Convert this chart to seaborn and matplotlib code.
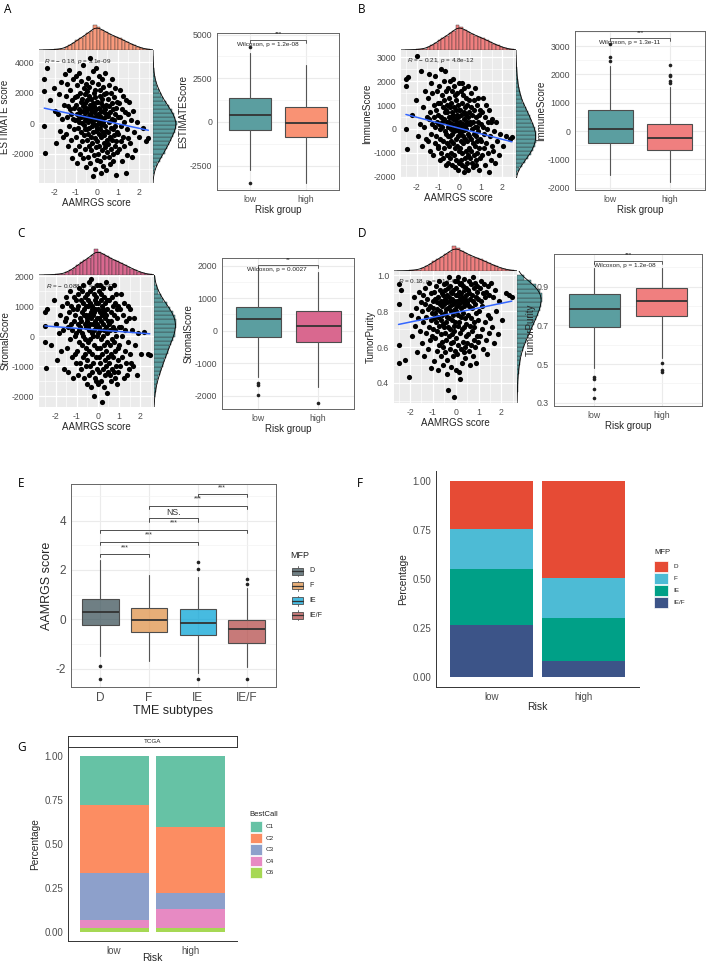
import numpy as np
import pandas as pd
import matplotlib
matplotlib.use("Agg")
import matplotlib.pyplot as plt
from matplotlib.patches import Rectangle
from matplotlib.lines import Line2D
from matplotlib.colors import to_rgba
import seaborn as sns

# ---------------- data ----------------
# AAMRGS score of each sample (x of all four scatter panels)
aamrgs = [
    -2.50, -2.50, -2.49, -2.47, -2.38, -2.21, -2.05, -1.97, -1.92, -1.84, -1.79, -1.73, -1.69, -1.64, -1.60, -1.56, -1.52,
    -1.49, -1.47, -1.44, -1.41, -1.39, -1.36, -1.33, -1.31, -1.28, -1.26, -1.23, -1.21, -1.18, -1.16, -1.14, -1.12,
    -1.10, -1.08, -1.06, -1.04, -1.02, -1.01,
    -0.99, -0.98, -0.96, -0.95, -0.93, -0.92, -0.90, -0.89, -0.87, -0.86, -0.84, -0.83, -0.81, -0.80, -0.78, -0.77,
    -0.76, -0.74, -0.73, -0.72, -0.70, -0.69, -0.68, -0.66, -0.65, -0.64, -0.63, -0.61, -0.60, -0.59, -0.58, -0.57,
    -0.56, -0.55, -0.54, -0.53, -0.52, -0.51,
    -0.50, -0.49, -0.48, -0.47, -0.46, -0.45, -0.44, -0.43, -0.42, -0.41, -0.40, -0.39, -0.38, -0.37, -0.36, -0.35,
    -0.34, -0.33, -0.32, -0.31, -0.30, -0.29, -0.28, -0.27, -0.26, -0.25, -0.24, -0.23, -0.22, -0.21, -0.20, -0.19,
    -0.18, -0.17, -0.16, -0.15, -0.14, -0.13, -0.12, -0.11, -0.10, -0.09, -0.08, -0.07, -0.06, -0.05, -0.04, -0.03,
    -0.03, -0.02, -0.01, 0.00,
    0.01, 0.02, 0.03, 0.04, 0.05, 0.06, 0.07, 0.08, 0.09, 0.10, 0.11, 0.12, 0.13, 0.14, 0.15, 0.16, 0.17, 0.18, 0.19,
    0.20, 0.21, 0.22, 0.23, 0.24, 0.25, 0.26, 0.27, 0.28, 0.29, 0.30, 0.31, 0.32, 0.33, 0.34, 0.35, 0.36, 0.37, 0.38,
    0.39, 0.40, 0.41, 0.42, 0.43, 0.44, 0.45, 0.46, 0.48, 0.49,
    0.51, 0.52, 0.54, 0.55, 0.56, 0.58, 0.59, 0.60, 0.62, 0.63, 0.64, 0.66, 0.67, 0.68, 0.70, 0.71, 0.72, 0.74, 0.75,
    0.76, 0.78, 0.79, 0.80, 0.82, 0.83, 0.84, 0.86, 0.87, 0.88, 0.90, 0.91, 0.93, 0.94, 0.96, 0.97, 0.99,
    1.01, 1.04, 1.06, 1.09, 1.11, 1.14, 1.16, 1.19, 1.21, 1.24, 1.26, 1.29, 1.31, 1.34, 1.37, 1.40, 1.42, 1.45, 1.47, 1.50,
    1.54, 1.58, 1.63, 1.67, 1.72, 1.76, 1.83, 1.91, 2.02, 2.18, 2.35, 2.45,
]

estimate = [
    2900, 2100, -200, -1950, 3600, 1500, 2300, 800, -1300, 600, 1900, -500, 2700, 300, -900, 1200, 3200,
    1800, -700, 2600, 400, -1500, 1100, 3500, -200, 900, 2200, -1100, 600, 1500, -2300, 300, 2900, 1000, -400, 1700,
    200, -1800, 3100,
    1200, -900, 2500, 600, -2600, 1800, 300, -300, 3300, 900, -1500, 100, 2000, 700, -2000, 1400, -600, 2800, 400,
    -1200, 1600, 0, 3800, 800, -2300, 1100, -100, 2300, 500, -800, 1900, -1700, 1300, 200, -400, 2600, -2900, 1000,
    700, -1100, 2100, 300, -400, 1500, -2200, 900, 3000, -700, 100, 1800, -1500, 500, 2400, -300, 1200, -2600, 600,
    4300, -900, 1000, 200, -1800, 1600, 2700, -200, 800, -1300, 400, 3400, -3500, 1300, 0, -600, 2000, -2100, 700,
    1100, -1000, 2200, 300, -3000, 1700, -500, 900, 3600, -1600, 500, -100, 1400, -2400,
    -300, 1400, -1200, 600, 2600, -2000, 200, 1000, -700, 3100, -1500, 0, 1800, -2500, 500, -400, 2200, -900, 800,
    -3300, 1300, -100, 2900, -1800, 300, 1600, -600, -2800, 1100, 100, 2400, -1300, 700, -2200, 1900, -800, 400, 3300,
    -1600, 900, -200, -3100, 1200, -500, 2000, -1100, 600, -1900,
    500, -1400, 1600, -600, 2500, -2200, 100, 1100, -900, -2700, 700, 2000, -300, -1700, 1300, -1100, 300, 2900,
    -2000, 900, -400, -2500, 1700, -800, 200, -1500, 2300, -200, 600, -3400, 1000, -1200, 1400, -600, -1900, 400,
    -700, 1300, -1700, 400, 2200, -1200, -200, 900, -2500, 1800, -900, 100, -1500, 700, -3300, 1500, -400, -2100, 600, -1000,
    1400, -1300, 200, -2200, 800, -600, -1800, 100, -900, -300, -1200, -1000,
]

immune = [
    2100, 1800, 0, -850, 2150, 600, 1200, 3050, -300, 200, 2400, -700, 900, 100, 1600, -400, 500,
    1300, -500, 2300, 400, -900, 700, 1900, -200, 200, 1500, -1100, 500, 1000, -600, 2200, 100, 800, -300, 1600, 300,
    -800, 1100,
    600, -700, 1800, 200, -1300, 1100, 0, -400, 2500, 500, -1000, 100, 1400, 300, -1200, 900, -500, 2000, 400, -800,
    1200, -100, 2400, 700, -1500, 800, -200, 1600, 300, -600, 1000, -1100, 700, 100, -300, 1700, -1400, 500,
    300, -700, 1300, 100, -300, 900, -1200, 500, 2000, -500, 0, 1100, -1000, 200, 1600, -200, 700, -1500, 400, 2100,
    -600, 600, 0, -1100, 900, 1800, -100, 400, -800, 200, 1400, -1600, 800, -50, -400, 1200, -1300, 300, 600, -700,
    1500, 100, -1700, 1000, -300, 500, 1900, -900, 200, -100, 800, -1400,
    -200, 800, -800, 300, 1600, -1300, 100, 600, -500, 1900, -1000, -100, 1100, -1500, 200, -300, 1400, -600, 400,
    -1800, 700, -50, 1700, -1200, 100, 900, -400, -1600, 600, 0, 1300, -900, 300, -1400, 1000, -500, 200, 1800, -1100,
    500, -200, -1700, 700, -300, 1200, -800, 300, -1200,
    200, -900, 900, -400, 1500, -1400, 0, 600, -600, -1600, 300, 1200, -200, -1100, 800, -700, 100, 1700, -1300, 500,
    -300, -1500, 1000, -500, 100, -1000, 1300, -100, 300, -1700, 600, -800, 800, -400, -1200, 200,
    -500, 700, -1100, 100, 1300, -800, -200, 500, -1500, 1000, -600, 0, -1000, 300, -1800, 800, -300, -1300, 300, -700,
    400, -900, -100, -1400, 300, -500, -1100, -200, -700, -300, -400, -350,
]

stromal = [
    800, 350, -200, -1050, 900, -300, 1200, 400, -800, 100, 700, -500, 1000, 200, -1100, 500, 1300,
    600, -400, 1100, 300, -1200, 800, 1500, -100, 400, 1000, -700, 200, 900, -1400, 500, 1300, 0, -600, 700, 100,
    -900, 1200,
    900, -500, 1400, 400, -1300, 1000, 200, -200, 1600, 600, -900, 300, 1200, 500, -1100, 800, -300, 1500, 100, -700,
    1100, 0, 1700, 700, -1400, 900, -100, 1300, 400, -600, 1000, -1000, 700, 300, -400, 1400, -1600, 600,
    500, -800, 1200, 300, -200, 1000, -1300, 700, 1800, -500, 200, 1100, -1000, 400, 1500, -100, 800, -1700, 600, 1900,
    -600, 900, 100, -1200, 1000, 1600, 0, 700, -900, 400, 1400, -2000, 800, 200, -300, 1200, -1400, 500, 900, -700,
    1300, 300, -1500, 1100, -400, 600, 1700, -1100, 400, 0, 900, -1600,
    100, 1100, -700, 600, 1500, -1200, 300, 800, -400, 1700, -900, 200, 1200, -1500, 500, -100, 1400, -600, 700,
    -2200, 1000, 0, 1600, -1100, 400, 900, -300, -1700, 800, 200, 1300, -800, 600, -1300, 1100, -500, 300, 1800,
    -1000, 700, 100, -1900, 900, -200, 1200, -700, 500, -1200,
    400, -900, 1200, -300, 1600, -1300, 200, 800, -600, -1500, 500, 1300, -100, -1100, 1000, -700, 300, 1700, -1200,
    700, -200, -1400, 1100, -500, 200, -1000, 1400, 0, 600, -1600, 900, -800, 1000, -400, -1200, 300,
    -300, 900, -1000, 300, 1400, -700, 0, 700, -1400, 1100, -500, 200, -900, 500, -1300, 1000, -200, -1100, 600, -600,
    900, -900, 200, -1000, 600, -300, -1300, 100, -600, 150, -600, -620,
]

purity = [
    0.95, 0.84, 0.61, 0.51, 0.92, 0.53, 0.43, 0.78, 0.66, 0.88, 0.72, 0.82, 0.57, 0.76, 0.91, 0.69, 0.85,
    0.80, 0.62, 0.89, 0.74, 0.55, 0.84, 0.93, 0.68, 0.77, 0.87, 0.59, 0.81, 0.71, 0.96, 0.64, 0.83, 0.75, 0.48, 0.90,
    0.79, 0.66, 0.86,
    0.82, 0.70, 0.91, 0.76, 0.52, 0.87, 0.79, 0.65, 0.94, 0.74, 0.58, 0.85, 0.81, 0.69, 0.47, 0.88, 0.77, 0.97, 0.72,
    0.61, 0.84, 0.80, 0.92, 0.75, 0.55, 0.86, 0.67, 0.90, 0.78, 0.63, 0.83, 0.50, 0.89, 0.73, 0.60, 0.95, 0.71, 0.85,
    0.84, 0.68, 0.92, 0.79, 0.57, 0.87, 0.74, 0.64, 0.96, 0.81, 0.53, 0.89, 0.77, 0.45, 0.85, 0.71, 0.93, 0.36, 0.82,
    0.99, 0.66, 0.88, 0.76, 0.59, 0.86, 0.94, 0.70, 0.83, 0.62, 0.80, 0.91, 0.49, 0.87, 0.75, 0.67, 0.90, 0.55, 0.84,
    0.78, 0.63, 0.92, 0.72, 0.32, 0.86, 0.69, 0.81, 0.97, 0.58, 0.85, 0.74, 0.89, 0.47,
    0.80, 0.93, 0.65, 0.86, 0.97, 0.56, 0.83, 0.89, 0.72, 0.99, 0.61, 0.78, 0.91, 0.46, 0.84, 0.74, 0.95, 0.68, 0.87,
    0.42, 0.90, 0.77, 0.96, 0.59, 0.82, 0.88, 0.70, 0.51, 0.86, 0.79, 0.94, 0.63, 0.85, 0.57, 0.92, 0.71, 0.83, 0.98,
    0.60, 0.87, 0.76, 0.54, 0.89, 0.73, 0.93, 0.66, 0.84, 0.62,
    0.85, 0.67, 0.92, 0.78, 0.97, 0.58, 0.83, 0.90, 0.72, 0.50, 0.87, 0.95, 0.76, 0.61, 0.89, 0.69, 0.82, 0.99, 0.55,
    0.86, 0.74, 0.64, 0.93, 0.71, 0.84, 0.60, 0.96, 0.79, 0.88, 0.51, 0.91, 0.66, 0.94, 0.75, 0.63, 0.87,
    0.80, 0.93, 0.66, 0.86, 0.97, 0.70, 0.83, 0.90, 0.59, 0.95, 0.74, 0.88, 0.64, 0.91, 0.56, 0.94, 0.78, 0.68, 0.89, 0.76,
    0.96, 0.71, 0.88, 0.62, 0.92, 0.80, 0.67, 0.86, 0.75, 0.90, 0.89, 0.88,
]

# marginal histograms: bin range and counts per bin
aamrgs_bins = (-2.55, 2.55)
aamrgs_counts = [1, 1, 1, 2, 3, 5, 10, 18, 27, 37, 46, 54, 63, 74, 96, 86, 77, 68, 61, 55, 50, 44, 37, 30, 23, 18,
                 12, 7, 4, 2]
estimate_bins = (-3600, 4400)
estimate_counts = [2, 5, 10, 18, 28, 38, 48, 58, 66, 74, 82, 90, 96, 100, 92, 86, 78, 65, 52, 42, 34, 26, 18, 12, 8,
                   5, 3, 2, 1, 1]
immune_bins = (-1900, 3100)
immune_counts = [6, 15, 28, 45, 60, 74, 84, 92, 97, 100, 98, 92, 84, 76, 68, 58, 48, 38, 30, 24, 18, 14, 10, 8, 6, 4,
                 3, 2, 1, 1]
stromal_bins = (-2300, 2000)
stromal_counts = [1, 2, 4, 7, 10, 15, 20, 27, 33, 40, 47, 54, 61, 68, 76, 84, 92, 96, 100, 98, 92, 84, 72, 56, 42, 30,
                  20, 12, 6, 3]
purity_bins = (0.30, 1.00)
purity_counts = [1, 1, 2, 2, 3, 4, 6, 8, 10, 13, 17, 22, 28, 36, 44, 52, 60, 68, 76, 84, 90, 95, 100, 98, 90, 76, 55, 28]

# linear fits (intercept, slope) and correlation labels
fit_estimate = (249, -294)
fit_immune = (30, -230)
fit_stromal = (216, -53)
fit_purity = (0.792, 0.0263)
cor_estimate = r"$R$ = − 0.18, $p$ = 3.1e-09"
cor_immune = r"$R$ = − 0.21, $p$ = 4.8e-12"
cor_stromal = r"$R$ = − 0.088, $p$ = 0.0043"
cor_purity = r"$R$ = 0.18, $p$ = 3.1e-09"

# box statistics: whisker low, q1, median, q3, whisker high
risk_groups = ["low", "high"]
estimate_low = [-2746, -458, 400, 1356, 3930]
estimate_low_out = [4300, -3506]
estimate_high = [-3472, -875, -74, 841, 3260]
estimate_high_out = []
immune_low = [-1549, -433, 60, 739, 2300]
immune_low_out = [2460, 2615, 3087]
immune_high = [-1800, -669, -257, 236, 1538]
immune_high_out = [1700, 1770, 1950, 1990, 2323]
stromal_low = [-1417, -185, 351, 739, 1960]
stromal_low_out = [-1620, -1660, -1980]
stromal_high = [-1725, -339, 154, 616, 1817]
stromal_high_out = [-2236]
purity_low = [0.478, 0.690, 0.785, 0.861, 0.995]
purity_low_out = [0.432, 0.421, 0.369, 0.323]
purity_high = [0.530, 0.748, 0.828, 0.892, 0.995]
purity_high_out = [0.507, 0.469, 0.457]

# TME subtypes (panel E)
mfp_levels = ["D", "F", "IE", "IE/F"]
tme_stats = [[-1.51, -0.23, 0.31, 0.82, 2.40],
             [-1.69, -0.54, -0.03, 0.47, 1.79],
             [-2.20, -0.65, -0.14, 0.42, 1.72],
             [-1.92, -0.95, -0.39, -0.03, 1.25]]
tme_out = [[-1.89, -2.42], [], [2.02, 2.33, -2.42], [1.43, 1.62, -2.43]]
tme_pairs = [(1, 2, 2.64, "***"), (1, 3, 3.14, "***"), (1, 4, 3.62, "***"),
             (2, 3, 4.09, "NS."), (2, 4, 4.59, "***"), (3, 4, 5.07, "***")]

# proportions (panel F: MFP, panel G: BestCall)
mfp_low = [0.246, 0.203, 0.287, 0.264]
mfp_high = [0.495, 0.204, 0.220, 0.081]
bestcall_levels = ["C1", "C2", "C3", "C4", "C6"]
bestcall_low = [0.280, 0.383, 0.269, 0.044, 0.024]
bestcall_high = [0.405, 0.375, 0.091, 0.105, 0.024]

# ---------------- style ----------------
sns.set_style("white")
plt.rcParams.update({
    "axes.unicode_minus": False,
    "mathtext.fontset": "custom",
    "mathtext.rm": "Liberation Sans",
    "mathtext.it": "Liberation Sans:italic",
})
plt.rcParams["font.family"] = ["Liberation Sans", "DejaVu Sans"]

teal = "#5B9EA0"
tick_grey = "#4D4D4D"

W, H = 709, 964
fig = plt.figure(figsize=(W / 100, H / 100), dpi=100)


def add_px(x0, y0, x1, y1):
    return fig.add_axes([x0 / W, 1 - y1 / H, (x1 - x0) / W, (y1 - y0) / H])


def style_ticks(ax, size, length=2, pad=1.5):
    ax.tick_params(which="major", length=length, width=0.5, color="#333333",
                   labelsize=size, labelcolor=tick_grey, pad=pad)
    ax.tick_params(which="minor", length=0)


def midpoints(ticks):
    step = ticks[1] - ticks[0]
    return [ticks[0] - step / 2] + [t + step / 2 for t in ticks]


n = min(len(aamrgs), len(estimate), len(immune), len(stromal), len(purity))


def marginal(ax, counts, brange, col, orient, lim):
    edges = np.linspace(brange[0], brange[1], len(counts) + 1)
    width = edges[1] - edges[0]
    df = pd.DataFrame({"v": (edges[:-1] + edges[1:]) / 2, "w": counts})
    dens = np.asarray(counts, float) / (sum(counts) * width)
    if orient == "x":
        ax.bar(df["v"], dens, width=width, color=col, edgecolor="#333333", linewidth=0.3)
        sns.kdeplot(data=df, x="v", weights="w", bw_adjust=0.45, cut=1, color="black", linewidth=0.6, ax=ax)
        ax.set_xlim(lim)
        ax.set_ylim(0, dens.max() * 1.03)
    else:
        ax.barh(df["v"], dens, height=width, color=col, edgecolor="#333333", linewidth=0.3)
        sns.kdeplot(data=df, y="v", weights="w", bw_adjust=0.45, cut=1, color="black", linewidth=0.6, ax=ax)
        ax.set_ylim(lim)
        ax.set_xlim(0, dens.max() * 1.03)
    ax.axis("off")


def scatter_panel(rect, top_h, right_w, y, fit, cor, cor_pos, xlim, ylim, yticks, ylabels, ylabel,
                  top_col, ycounts, ybins):
    x0, y0, x1, y1 = rect
    ax = add_px(*rect)
    ax.set_facecolor("#EBEBEB")
    for s in ax.spines.values():
        s.set_visible(False)
    ax.set_xticks([-2, -1, 0, 1, 2])
    ax.set_xticklabels(["-2", "-1", "0", "1", "2"])
    ax.set_xticks([-2.5, -1.5, -0.5, 0.5, 1.5, 2.5], minor=True)
    ax.set_yticks(yticks)
    ax.set_yticklabels(ylabels)
    ax.set_yticks(midpoints(yticks), minor=True)
    ax.grid(which="major", color="white", lw=0.9)
    ax.grid(which="minor", color="white", lw=0.45)
    ax.set_axisbelow(True)
    ax.text(cor_pos[0], cor_pos[1], cor, transform=ax.transAxes, fontsize=4.6, color="#222222",
            ha="left", va="center", zorder=2)
    sns.scatterplot(x=aamrgs[:n], y=y[:n], ax=ax, s=14, color="black", linewidth=0, zorder=3)
    xs = np.array([min(aamrgs), max(aamrgs)])
    ax.plot(xs, fit[0] + fit[1] * xs, color="#3366FF", lw=1.1, zorder=4)
    ax.set_xlim(xlim)
    ax.set_ylim(ylim)
    ax.set_xlabel("AAMRGS score", fontsize=7, labelpad=1)
    ax.set_ylabel(ylabel, fontsize=7, labelpad=1)
    style_ticks(ax, 6.3)

    axt = add_px(x0, y0 - top_h, x1, y0)
    marginal(axt, aamrgs_counts, aamrgs_bins, top_col, "x", xlim)
    axr = add_px(x1, y0, x1 + right_w, y1)
    marginal(axr, ycounts, ybins, teal, "y", ylim)


def draw_boxes(ax, stats, outs, colors, positions, alpha=1.0):
    bx = [dict(whislo=s[0], q1=s[1], med=s[2], q3=s[3], whishi=s[4], fliers=o) for s, o in zip(stats, outs)]
    bp = ax.bxp(bx, positions=positions, widths=0.75, patch_artist=True, showcaps=False, manage_ticks=False,
                boxprops=dict(edgecolor="#4D4D4D", linewidth=0.8),
                medianprops=dict(color="#333333", linewidth=1.3),
                whiskerprops=dict(color="#555555", linewidth=0.8),
                flierprops=dict(marker="o", markerfacecolor="#222222", markeredgecolor="none", markersize=2.6))
    for patch, col in zip(bp["boxes"], colors):
        patch.set_facecolor(to_rgba(col, alpha))
        patch.set_zorder(2)


def bw_frame(ax, yticks, ylabels, size):
    ax.set_yticks(yticks)
    ax.set_yticklabels(ylabels)
    ax.set_yticks(midpoints(yticks), minor=True)
    ax.grid(which="major", color="#EBEBEB", lw=0.8)
    ax.grid(which="minor", axis="y", color="#F2F2F2", lw=0.45)
    ax.set_axisbelow(True)
    for s in ax.spines.values():
        s.set_color("#666666")
        s.set_linewidth(0.7)
    style_ticks(ax, size)


def box_panel(rect, low, low_out, high, high_out, high_col, ylim, yticks, ylabels, ylabel,
              br_y, br_h, star, star_y, ptext, ptext_x, ptext_y):
    ax = add_px(*rect)
    draw_boxes(ax, [low, high], [low_out, high_out], [teal, high_col], [1, 2])
    ax.set_xticks([1, 2])
    ax.set_xticklabels(risk_groups)
    bw_frame(ax, yticks, ylabels, 6.3)
    ax.set_xlim(0.4, 2.6)
    ax.set_ylim(ylim)
    ax.plot([1, 1, 2, 2], [br_y - br_h, br_y, br_y, br_y - br_h], color="#222222", lw=0.5, clip_on=False)
    ax.text(1.5, star_y, star, ha="center", va="center", fontsize=4.5, clip_on=False)
    ax.text(ptext_x, ptext_y, ptext, ha="center", va="center", fontsize=4.6, color="#222222")
    ax.set_xlabel("Risk group", fontsize=7, labelpad=1)
    ax.set_ylabel(ylabel, fontsize=7, labelpad=1)


# ---------------- panels A-D ----------------
scatter_panel((39, 50, 153, 183), 26, 25, estimate, fit_estimate, cor_estimate, (0.04, 0.915),
              (-2.75, 2.67), (-3940, 4810), [-2000, 0, 2000, 4000], ["-2000", "0", "2000", "4000"],
              "ESTIMATE score", "#F99A7C", estimate_counts, estimate_bins)
box_panel((217, 33, 339, 190), estimate_low, estimate_low_out, estimate_high, estimate_high_out, "#F99274",
          (-3890, 5090), [-2500, 0, 2500, 5000], ["-2500", "0", "2500", "5000"], "ESTIMATEScore",
          4690, 170, "***", 5070, "Wilcoxon, p = 1.2e-08", 1.32, 4450)

scatter_panel((401, 50, 516, 178), 26, 21, immune, fit_immune, cor_immune, (0.05, 0.916),
              (-2.73, 2.64), (-2042, 3292), [-2000, -1000, 0, 1000, 2000, 3000],
              ["-2000", "-1000", "0", "1000", "2000", "3000"],
              "ImmuneScore", "#F07F7F", immune_counts, immune_bins)
box_panel((575, 31, 705, 190), immune_low, immune_low_out, immune_high, immune_high_out, "#F07F7F",
          (-2077, 3530), [-2000, -1000, 0, 1000, 2000, 3000], ["-2000", "-1000", "0", "1000", "2000", "3000"],
          "ImmuneScore", 3298, 105, "***", 3474, "Wilcoxon, p = 1.3e-11", 1.33, 3122)

scatter_panel((39, 275, 154, 407), 27, 23, stromal, fit_stromal, cor_stromal, (0.06, 0.914),
              (-2.78, 2.65), (-2360, 2050), [-2000, -1000, 0, 1000, 2000],
              ["-2000", "-1000", "0", "1000", "2000"],
              "StromalScore", "#D9688F", stromal_counts, stromal_bins)
box_panel((222, 258, 354, 409), stromal_low, stromal_low_out, stromal_high, stromal_high_out, "#D9688F",
          (-2412, 2239), [-2000, -1000, 0, 1000, 2000], ["-2000", "-1000", "0", "1000", "2000"],
          "StromalScore", 2024, 92, "**", 2198, "Wilcoxon, p = 0.0027", 1.32, 1891)

scatter_panel((394, 271, 517, 403), 26, 26, purity, fit_purity, cor_purity, (0.03, 0.92),
              (-2.70, 2.68), (0.287, 1.025), [0.4, 0.6, 0.8, 1.0], ["0.4", "0.6", "0.8", "1.0"],
              "TumorPurity", "#F07F7F", purity_counts, purity_bins)
box_panel((554, 254, 702, 406), purity_low, purity_low_out, purity_high, purity_high_out, "#F07F7F",
          (0.283, 1.069), [0.3, 0.5, 0.7, 0.9], ["0.3", "0.5", "0.7", "0.9"],
          "TumorPurity", 1.033, 0.0155, "***", 1.064, "Wilcoxon, p = 1.2e-08", 1.46, 1.009)

# ---------------- panel E ----------------
e_colors = ["#374E55", "#DF8F44", "#00A1D5", "#B24745"]
axe = add_px(71, 484, 276, 687)
draw_boxes(axe, tme_stats, tme_out, e_colors, [1, 2, 3, 4], alpha=0.72)
axe.set_xticks([1, 2, 3, 4])
axe.set_xticklabels(mfp_levels)
bw_frame(axe, [-2, 0, 2, 4], ["-2", "0", "2", "4"], 8.5)
axe.set_xlim(0.4, 4.6)
axe.set_ylim(-2.75, 5.48)
for a, b, yb, lab in tme_pairs:
    axe.plot([a, a, b, b], [yb - 0.135, yb, yb, yb - 0.135], color="#333333", lw=0.6)
    axe.text((a + b) / 2, yb + (0.24 if lab == "NS." else 0.27), lab, ha="center", va="center",
             fontsize=6.3 if lab == "NS." else 5, color="#333333")
axe.set_xlabel("TME subtypes", fontsize=9, labelpad=1)
axe.set_ylabel("AAMRGS score", fontsize=9, labelpad=2)

fig.text(290 / W, 1 - 556 / H, "MFP", fontsize=6.5, ha="left", va="center", color="#222222")
for i, (lab, col) in enumerate(zip(mfp_levels, e_colors)):
    yc = 571 + 14.8 * i
    fig.add_artist(Rectangle((292 / W, 1 - (yc + 3.5) / H), 11 / W, 7 / H, transform=fig.transFigure,
                             facecolor=to_rgba(col, 0.72), edgecolor="#4D4D4D", linewidth=0.6))
    fig.add_artist(Line2D([292 / W, 303 / W], [1 - yc / H, 1 - yc / H], transform=fig.transFigure,
                          color="#333333", linewidth=0.9))
    for d in (-1, 1):
        fig.add_artist(Line2D([297.5 / W, 297.5 / W], [1 - (yc + d * 3.5) / H, 1 - (yc + d * 5) / H],
                              transform=fig.transFigure, color="#555555", linewidth=0.6))
    fig.text(309 / W, 1 - yc / H, lab, fontsize=5, ha="left", va="center", color="#222222")


# ---------------- panels F, G ----------------
def stacked_panel(ax, levels, low, high, colors, size, label_y):
    bottom = np.zeros(2)
    for lev, lo, hi, col in reversed(list(zip(levels, low, high, colors))):
        ax.bar([1, 2], [lo, hi], bottom=bottom, width=0.9, color=col, linewidth=0)
        bottom += np.array([lo, hi])
    ax.set_xlim(0.4, 2.6)
    ax.set_ylim(-0.05, 1.05)
    ax.set_xticks([1, 2])
    ax.set_xticklabels(risk_groups)
    ax.set_yticks([0, 0.25, 0.5, 0.75, 1.0])
    ax.set_yticklabels(["0.00", "0.25", "0.50", "0.75", "1.00"])
    for s in ("top", "right"):
        ax.spines[s].set_visible(False)
    for s in ("left", "bottom"):
        ax.spines[s].set_color("#333333")
        ax.spines[s].set_linewidth(0.7)
    ax.grid(False)
    style_ticks(ax, size, length=2.5, pad=1)
    ax.set_ylabel("Percentage", fontsize=7.3, labelpad=3)
    ax.set_xlabel("Risk", fontsize=7.5)
    ax.xaxis.label.set_va("center")
    ax.xaxis.set_label_coords(0.5, label_y)


f_colors = ["#E64B35", "#4DBBD5", "#00A087", "#3C5488"]
axf = add_px(436, 471, 639, 687)
stacked_panel(axf, mfp_levels, mfp_low, mfp_high, f_colors, 7, -(706.7 - 687) / 216)


def key_legend(title, levels, colors, x, title_y, first_y, step, key_w, key_h, label_x):
    fig.text(x / W, 1 - title_y / H, title, fontsize=5.5, ha="left", va="center", color="#222222")
    for i, (lab, col) in enumerate(zip(levels, colors)):
        yc = first_y + step * i
        fig.add_artist(Rectangle((x / W, 1 - (yc + key_h / 2) / H), key_w / W, key_h / H,
                                 transform=fig.transFigure, facecolor=col, edgecolor="white", linewidth=0.5))
        fig.text(label_x / W, 1 - yc / H, lab, fontsize=4.6, ha="left", va="center", color="#222222")


key_legend("MFP", mfp_levels, f_colors, 654, 553, 566.5, 11.9, 14, 11, 673)

g_colors = ["#66C2A5", "#FC8D62", "#8DA0CB", "#E78AC3", "#A6D854"]
axg = add_px(68, 747, 237, 941)
stacked_panel(axg, bestcall_levels, bestcall_low, bestcall_high, g_colors, 7, -(958.3 - 941) / 194)
key_legend("BestCall", bestcall_levels, g_colors, 249.5, 814, 826.7, 11.5, 12, 10.5, 265.7)

axs = add_px(68, 736, 237, 747)
axs.set_xticks([])
axs.set_yticks([])
axs.set_facecolor("white")
for s in axs.spines.values():
    s.set_color("#333333")
    s.set_linewidth(0.7)
axs.text(0.5, 0.5, "TCGA", transform=axs.transAxes, fontsize=4.5, ha="center", va="center", color="#222222")

# ---------------- panel letters ----------------
for lab, (px, py) in {"A": (4, 3), "B": (358, 3), "C": (17, 227), "D": (358, 227),
                      "E": (18, 477), "F": (357, 477), "G": (17, 741)}.items():
    fig.text(px / W, 1 - py / H, lab, fontsize=8.5, family=["Open Sans", "DejaVu Sans"],
             ha="left", va="top", color="black")

fig.savefig("out.png", dpi=100)
